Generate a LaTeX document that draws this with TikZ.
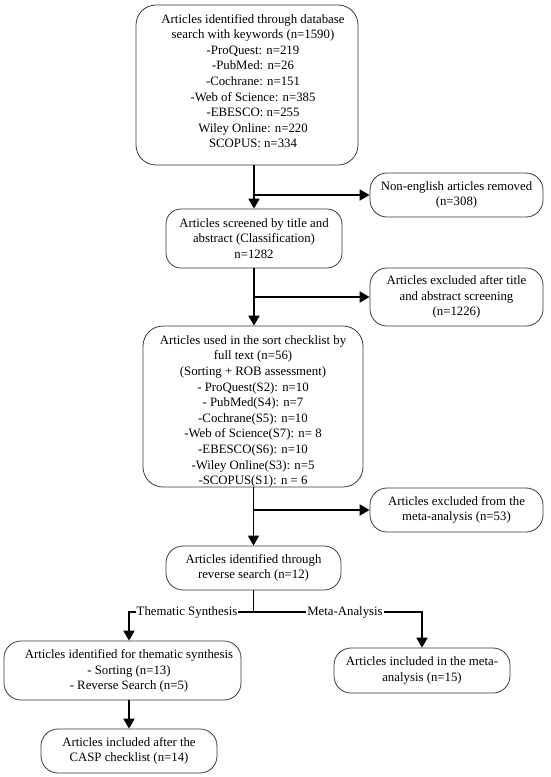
\documentclass[tikz,border=0pt]{standalone}
\usepackage{fontspec}
\setmainfont{Liberation Serif}
\usetikzlibrary{arrows.meta}
\definecolor{boxgray}{HTML}{3A3A3A}
\newcommand\myfs{\fontsize{12.8}{15.6}\selectfont}
\begin{document}
\begin{tikzpicture}[x=1pt,y=-1pt,
  box/.style={draw=boxgray, line width=0.8pt, rounded corners=#1, inner sep=0pt, align=center, font=\myfs},
  box/.default=17pt,
  txt/.style={inner sep=0pt, align=center, font=\myfs},
  lab/.style={fill=white, inner sep=1pt, font=\myfs},
  conn/.style={line width=1.8pt},
  arr/.style={line width=1.8pt, -{Triangle[width=11pt,length=10pt]}}]
\useasboundingbox (0,0) rectangle (550,777);
\coordinate (y612) at (0,612);

% boxes
\node[box=20pt, minimum width=222, minimum height=160] (b1) at (247,85) {};
\node[txt] (t1) at (253,81) {Articles identified through database\\search with keywords (n=1590)\\-ProQuest: n=219\\-PubMed: n=26\\-Cochrane: n=151\\-Web of Science: n=385\\-EBESCO: n=255\\Wiley Online: n=220\\SCOPUS: n=334};

\node[box, minimum width=173, minimum height=44] (b2) at (456.5,195) {Non-english articles removed\\(n=308)};
\node[box=15pt, minimum width=176, minimum height=59] (b3) at (254,238.5) {Articles screened by title and\\abstract (Classification)\\n=1282};
\node[box, minimum width=173, minimum height=58] (b4) at (456.5,297) {Articles excluded after title\\and abstract screening\\(n=1226)};

\node[box=20pt, minimum width=220, minimum height=161] (b5) at (253,406.5) {};
\node[txt] (t5) at (253,411.5) {Articles used in the sort checklist by\\full text (n=56)\\(Sorting + ROB assessment)\\- ProQuest(S2): n=10\\- PubMed(S4): n=7\\-Cochrane(S5): n=10\\-Web of Science(S7): n= 8\\-EBESCO(S6): n=10\\-Wiley Online(S3): n=5\\-SCOPUS(S1): n = 6};

\node[box, minimum width=173, minimum height=44] (b6) at (456.5,510) {Articles excluded from the\\meta-analysis (n=53)};
\node[box, minimum width=175, minimum height=44] (b7) at (253.5,568) {Articles identified through\\reverse search (n=12)};

\node[box, minimum width=237, minimum height=59] (b8) at (122.5,670.5) {};
\node[txt] (t8) at (129,671) {Articles identified for thematic synthesis\\- Sorting (n=13)\\- Reverse Search (n=5)};

\node[box, minimum width=176, minimum height=45] (b9) at (422,670.5) {Articles included in the meta-\\analysis (n=15)};
\node[box, minimum width=176, minimum height=44] (b10) at (129,751) {Articles included after the\\CASP checklist (n=14)};

% connectors
\draw[arr] (b1.south -| b3.north) -- (b3.north);
\coordinate (j1) at (b3.north |- b2.west);
\draw[arr] (j1) -- (b2.west);

\draw[arr] (b3.south) -- (b3.south |- b5.north);
\coordinate (j2) at (b3.south |- b4.west);
\draw[arr] (j2) -- (b4.west);

\draw[arr] (b5.south -| b7.north) -- (b7.north);
\coordinate (j3) at (b7.north |- b6.west);
\draw[arr] (j3) -- (b6.west);

\coordinate (j4) at (b7.south |- y612);
\coordinate (tA) at (b10.north |- b8.north);
\draw[conn] (b7.south) -- (j4);
\draw[arr] (j4) -| (tA);
\draw[arr] (j4) -| (b9.north);
\draw[arr] (tA |- b8.south) -- (b10.north);

\node[lab] (l1) at (187,612) {Thematic Synthesis};
\node[lab] (l2) at (345,612) {Meta-Analysis};
\end{tikzpicture}
\end{document}
